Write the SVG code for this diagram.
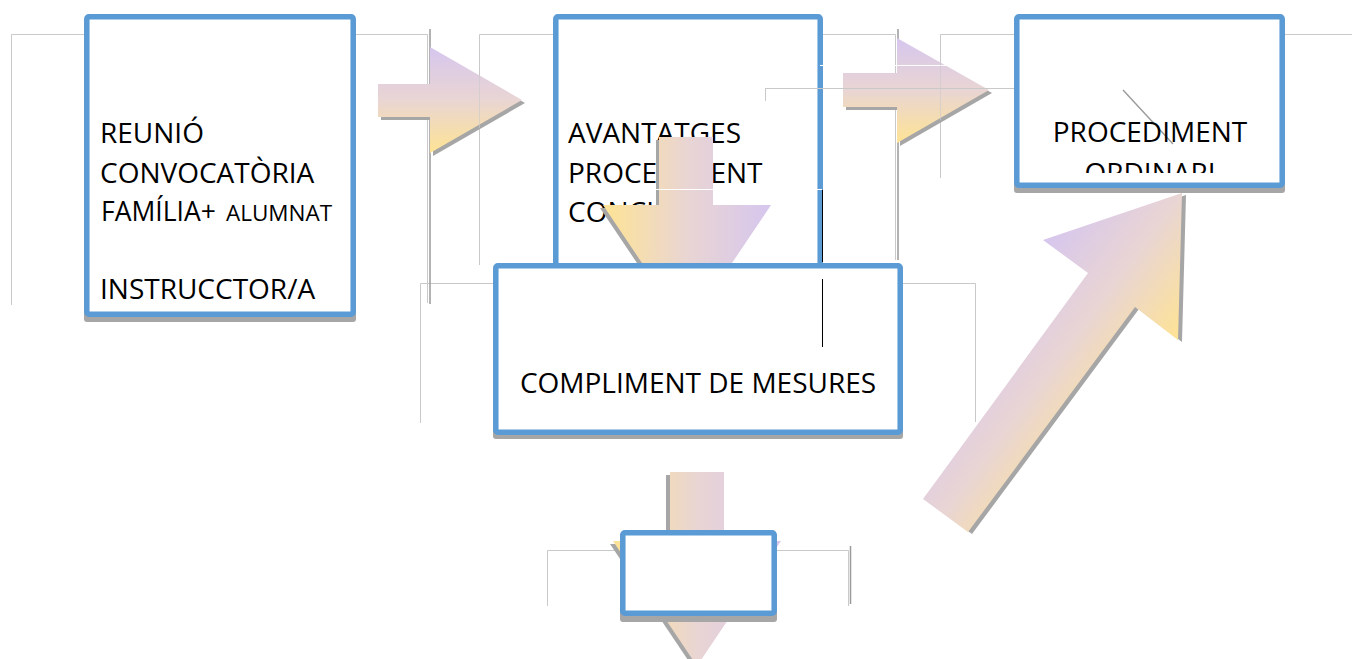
<svg xmlns="http://www.w3.org/2000/svg" width="1352" height="659" viewBox="0 0 1352 659">
  <defs>
    <linearGradient id="gradRight" x1="0" y1="0" x2="0" y2="1">
      <stop offset="0" stop-color="#d6c6ee"/>
      <stop offset="0.5" stop-color="#e9d5d3"/>
      <stop offset="1" stop-color="#fee394"/>
    </linearGradient>
    <linearGradient id="gradDown" x1="0" y1="0" x2="1" y2="0">
      <stop offset="0" stop-color="#fee394"/>
      <stop offset="0.5" stop-color="#e9d5d3"/>
      <stop offset="1" stop-color="#d6c6ee"/>
    </linearGradient>
    <linearGradient id="gradDiag" gradientUnits="userSpaceOnUse" x1="1043" y1="240" x2="1178" y2="340">
      <stop offset="0" stop-color="#d6c6ee"/>
      <stop offset="0.5" stop-color="#e9d5d3"/>
      <stop offset="1" stop-color="#fee394"/>
    </linearGradient>
    <clipPath id="clipOrd">
      <rect x="1020" y="20" width="260" height="153"/>
    </clipPath>
  </defs>
  <style>
    .frame { fill: none; stroke: #c9c9c9; stroke-width: 1; }
    .frame-over { fill: none; stroke: #c9c9c9; stroke-width: 1; stroke-opacity: 0.6; }
    .rule { fill: none; stroke: #9a9a9a; stroke-width: 1.5; }
    .shadow { fill: #a6a6a6; }
    .box { fill: #ffffff; stroke: #5b9bd5; stroke-width: 5.5; }
    .label { font-family: "Open Sans", "Liberation Sans", sans-serif; font-size: 28px; fill: #000000; }
    .white { stroke: #ffffff; stroke-width: 1; fill: none; }
  </style>
  <rect width="1352" height="659" fill="#ffffff"/>

  <!-- text frame outlines behind the shapes -->
  <g id="frames">
    <polyline class="frame" points="11.5,305 11.5,34.5 84,34.5"/>
    <polyline class="frame" points="356,34.5 427.5,34.5 427.5,303"/>
    <polyline class="frame" points="479.5,265 479.5,34.5 553,34.5"/>
    <polyline class="frame" points="823,34.5 895.5,34.5 895.5,260"/>
    <polyline class="frame" points="940.5,178 940.5,34.5 1014,34.5"/>
    <line class="frame" x1="1285" y1="34.5" x2="1352" y2="34.5"/>
    <polyline class="frame" points="420.5,423 420.5,283.5 494,283.5"/>
    <polyline class="frame" points="903,283.5 975.5,283.5 975.5,422"/>
    <polyline class="frame" points="547.5,606 547.5,550.5 620,550.5"/>
    <polyline class="frame" points="777,550.5 848.5,550.5 848.5,606"/>
    <line class="rule" x1="430" y1="29" x2="430" y2="304"/>
    <line class="rule" x1="898" y1="29" x2="898" y2="260"/>
    <line class="rule" x1="850.5" y1="546" x2="850.5" y2="604"/>
  </g>

  <!-- node: meeting / call -->
  <g id="node-reunio">
    <rect class="shadow" x="84" y="18" width="272" height="304" rx="3"/>
    <rect class="box" x="86.8" y="16.8" width="266.4" height="297.4" rx="2"/>
    <text class="label" x="100" y="143">REUNIÓ</text>
    <text class="label" x="100" y="183">CONVOCATÒRIA</text>
    <text class="label" y="221"><tspan x="101" font-size="26.5">FAMÍLIA+</tspan><tspan x="226" font-size="22.5">ALUMNAT</tspan></text>
    <text class="label" x="100" y="299">INSTRUCCTOR/A</text>
  </g>

  <g id="connectors">
    <!-- right arrow: meeting to advantages -->
    <g id="arrow-1">
      <polygon class="shadow" points="381,87 433,87 433,50 525,103 433,156 433,120 381,120"/>
      <polygon fill="url(#gradRight)" points="378,84 430,84 430,47 522,100 430,153 430,117 378,117"/>
      <line class="frame-over" x1="479.5" y1="72" x2="479.5" y2="128"/>
    </g>
  </g>

  <!-- node: advantages of the conciliated procedure -->
  <g id="node-avantatges">
    <rect class="shadow" x="553" y="18" width="270" height="260" rx="3"/>
    <rect class="box" x="555.8" y="16.8" width="264.4" height="260" rx="2"/>
    <text class="label" x="568" y="143">AVANTATGES</text>
    <text class="label" x="568" y="183">PROCEDIMENT</text>
    <text class="label" x="568" y="222">CONCILIAT</text>
  </g>

  <g id="connectors-2">
    <!-- down arrow: advantages to measures -->
    <g id="arrow-2">
      <polygon class="shadow" points="656,140 710,140 710,208 768,208 684,333 600,208 656,208"/>
      <polygon fill="url(#gradDown)" points="659,137 713,137 713,205 771,205 687,330 603,205 659,205"/>
      <line class="white" x1="655" y1="189.5" x2="822" y2="189.5"/>
    </g>
    <!-- right arrow: advantages to ordinary procedure -->
    <g id="arrow-3">
      <polygon class="shadow" points="846,76 900,76 900,41 992,93 900,146 900,110 846,110"/>
      <polygon fill="url(#gradRight)" points="843,73 897,73 897,38 989,90 897,143 897,107 843,107"/>
      <line class="white" x1="820" y1="65.5" x2="1018" y2="65.5"/>
      <line class="frame-over" x1="940.5" y1="60" x2="940.5" y2="120"/>
    </g>
    <line class="frame" x1="765.5" y1="101" x2="765.5" y2="88.5"/>
    <line class="frame" x1="765" y1="88.5" x2="1014" y2="88.5"/>
  </g>

  <!-- node: ordinary procedure -->
  <g id="node-ordinari">
    <rect class="shadow" x="1014" y="18" width="271" height="175" rx="3"/>
    <rect class="box" x="1016.8" y="16.8" width="265.4" height="168.4" rx="2"/>
    <line x1="1123" y1="90" x2="1173" y2="144" stroke="#9a9a9a" stroke-width="1.4"/>
    <text class="label" x="1150" y="142" text-anchor="middle">PROCEDIMENT</text>
    <text class="label" x="1150" y="183" text-anchor="middle" clip-path="url(#clipOrd)">ORDINARI</text>
  </g>

  <g id="connectors-3">
    <!-- diagonal arrow: measures to ordinary procedure -->
    <g id="arrow-4">
      <polygon class="shadow" points="927,501 1092,275 1047,242 1186,195 1182,342 1139,309 972,534"/>
      <polygon fill="url(#gradDiag)" points="923,499 1088,273 1043,240 1182,193 1178,340 1135,307 968,532"/>
    </g>
  </g>

  <!-- node: fulfilment of measures -->
  <g id="node-compliment">
    <rect class="shadow" x="493" y="266" width="410" height="173" rx="3"/>
    <rect class="box" x="495.8" y="265.8" width="404.4" height="166.4" rx="2"/>
    <text class="label" x="698" y="393" text-anchor="middle">COMPLIMENT DE MESURES</text>
  </g>

  <g id="connectors-4">
    <line x1="822.5" y1="190" x2="822.5" y2="262" stroke="#000000" stroke-width="1"/>
    <line x1="822.5" y1="279" x2="822.5" y2="347" stroke="#000000" stroke-width="1"/>
    <!-- down arrow below measures -->
    <g id="arrow-5">
      <polygon class="shadow" points="666,475 720,475 720,544 778,544 694,669 610,544 666,544"/>
      <polygon fill="url(#gradDown)" points="670,472 724,472 724,541 781,541 697,666 613,541 670,541"/>
    </g>
  </g>

  <!-- node: empty final box -->
  <g id="node-final">
    <rect class="shadow" x="620" y="533" width="157" height="89" rx="3"/>
    <rect class="box" x="622.8" y="532.8" width="151.4" height="80.4" rx="2"/>
  </g>
</svg>
